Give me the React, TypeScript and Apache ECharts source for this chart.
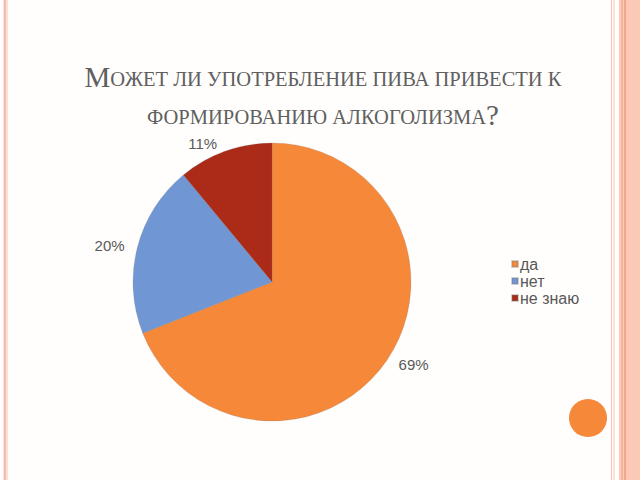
import React, { useEffect, useRef } from "react";
import * as echarts from "echarts";

const categories = ["да", "нет", "не знаю"];
const values = [69, 20, 11];
const colors = ["#F6883A", "#7096D4", "#AB2A18"];
const titleLine1 = "{b|М}{s|ОЖЕТ ЛИ УПОТРЕБЛЕНИЕ ПИВА ПРИВЕСТИ К}";
const titleLine2 = "{s|ФОРМИРОВАНИЮ АЛКОГОЛИЗМА}{b|?}";

export default function App() {
  const ref = useRef<HTMLDivElement>(null);
  useEffect(() => {
    if (!ref.current) return;
    const chart = echarts.init(ref.current, undefined, { renderer: "svg" });
    const rich = {
      b: { fontSize: 29, fontFamily: "Liberation Serif", fill: "#606060", verticalAlign: "bottom" },
      s: { fontSize: 20.5, fontFamily: "Liberation Serif", fill: "#606060", verticalAlign: "bottom", padding: [0, 0, 2, 0] },
    };
    chart.setOption({
      animation: false,
      backgroundColor: "#fffefc",
      color: colors,
      graphic: [
        { type: "rect", shape: { x: 3, y: 0, width: 5, height: 480 }, style: { fill: "#fbe0d6" }, silent: true },
        { type: "rect", shape: { x: 4, y: 0, width: 2, height: 480 }, style: { fill: "#f5bca8" }, silent: true },
        { type: "rect", shape: { x: 611, y: 0, width: 1, height: 480 }, style: { fill: "#f6c4b2" }, silent: true },
        { type: "rect", shape: { x: 613, y: 0, width: 2, height: 480 }, style: { fill: "#fbe3da" }, silent: true },
        { type: "rect", shape: { x: 619, y: 0, width: 21, height: 480 }, style: { fill: "#fcc9b6" }, silent: true },
        { type: "rect", shape: { x: 621, y: 0, width: 2, height: 480 }, style: { fill: "#f3b39c" }, silent: true },
        { type: "rect", shape: { x: 624, y: 0, width: 2, height: 480 }, style: { fill: "#efa98f" }, silent: true },
        { type: "circle", shape: { cx: 588, cy: 418, r: 19 }, style: { fill: "#F6883A" }, silent: true },
        {
          type: "text",
          x: 323,
          y: 91,
          style: { text: titleLine1, rich, fill: "#606060", align: "center", verticalAlign: "bottom" },
        },
        {
          type: "text",
          x: 323,
          y: 129,
          style: { text: titleLine2, rich, fill: "#606060", align: "center", verticalAlign: "bottom" },
        },
      ],
      legend: {
        orient: "vertical",
        left: 506,
        top: 251,
        icon: "rect",
        itemWidth: 6,
        itemHeight: 6,
        itemGap: 1,
        data: categories,
        textStyle: { fontSize: 16, fontFamily: "Liberation Sans", color: "#595959", padding: [0, 0, 0, -3] },
      },
      series: [
        {
          type: "pie",
          center: [272, 282],
          radius: 139,
          startAngle: 90,
          clockwise: true,
          data: categories.map((c, i) => ({ name: c, value: values[i] })),
          itemStyle: { borderColor: "rgba(120,120,120,0.35)", borderWidth: 0.6 },
          label: {
            show: true,
            position: "outside",
            formatter: "{c}%",
            fontSize: 15,
            fontFamily: "Liberation Sans",
            color: "#595959",
          },
          labelLine: { show: false, length: 8, length2: 0 },
          emphasis: { disabled: true },
        },
      ],
    });
    return () => chart.dispose();
  }, []);
  return <div ref={ref} style={{ position: "fixed", left: 0, top: 0, width: 640, height: 480 }} />;
}
